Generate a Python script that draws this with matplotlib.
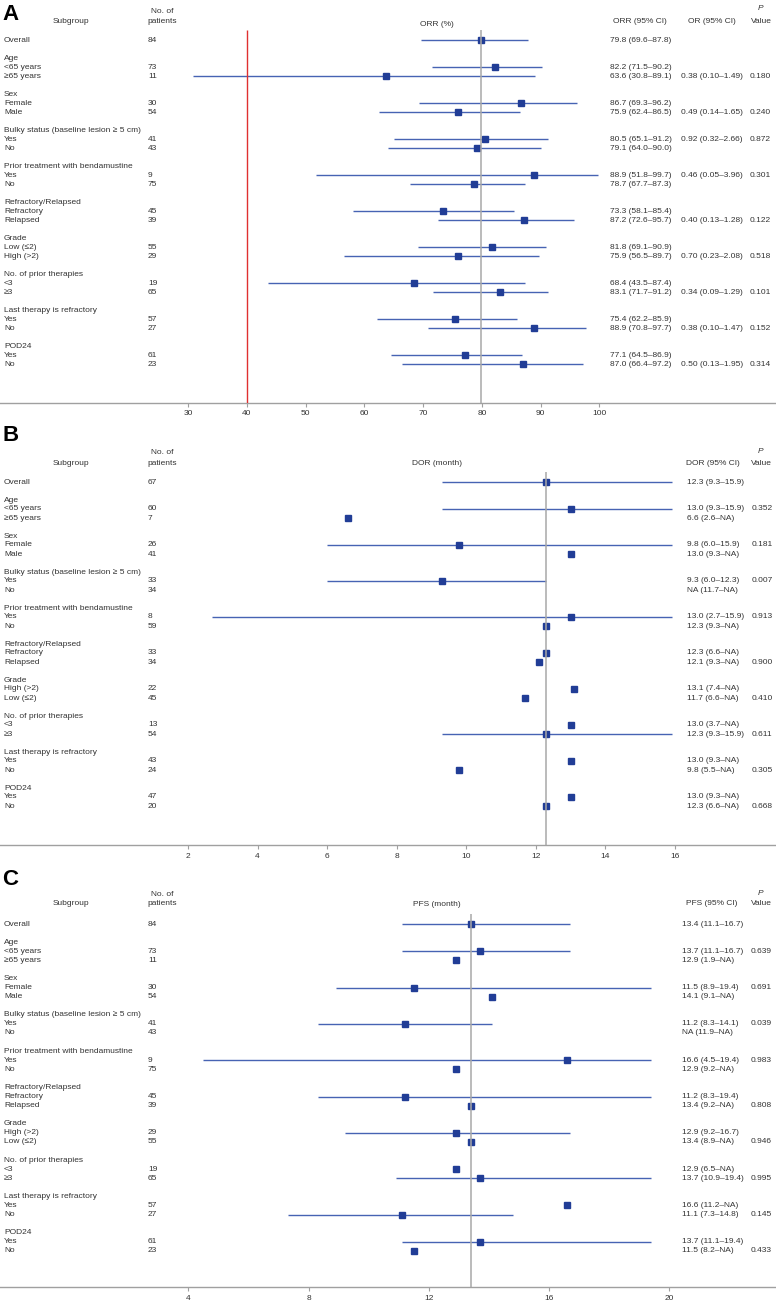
import numpy as np
import matplotlib
matplotlib.use("Agg")
import matplotlib.pyplot as plt

plt.rcParams['font.family'] = ['Liberation Sans', 'DejaVu Sans']

nan = np.nan

# row labels (headers are the rows with n = None)
labels_a = ["Overall",
            "Age", "<65 years", "≥65 years",
            "Sex", "Female", "Male",
            "Bulky status (baseline lesion ≥ 5 cm)", "Yes", "No",
            "Prior treatment with bendamustine", "Yes", "No",
            "Refractory/Relapsed", "Refractory", "Relapsed",
            "Grade", "Low (≤2)", "High (>2)",
            "No. of prior therapies", "<3", "≥3",
            "Last therapy is refractory", "Yes", "No",
            "POD24", "Yes", "No"]
labels_bc = ["Overall",
             "Age", "<65 years", "≥65 years",
             "Sex", "Female", "Male",
             "Bulky status (baseline lesion ≥ 5 cm)", "Yes", "No",
             "Prior treatment with bendamustine", "Yes", "No",
             "Refractory/Relapsed", "Refractory", "Relapsed",
             "Grade", "High (>2)", "Low (≤2)",
             "No. of prior therapies", "<3", "≥3",
             "Last therapy is refractory", "Yes", "No",
             "POD24", "Yes", "No"]

# A: ORR
orr_n = [84, None, 73, 11, None, 30, 54, None, 41, 43, None, 9, 75, None, 45, 39,
         None, 55, 29, None, 19, 65, None, 57, 27, None, 61, 23]
orr_est = [79.8, nan, 82.2, 63.6, nan, 86.7, 75.9, nan, 80.5, 79.1, nan, 88.9, 78.7, nan, 73.3, 87.2,
           nan, 81.8, 75.9, nan, 68.4, 83.1, nan, 75.4, 88.9, nan, 77.1, 87.0]
orr_lo = [69.6, nan, 71.5, 30.8, nan, 69.3, 62.4, nan, 65.1, 64.0, nan, 51.8, 67.7, nan, 58.1, 72.6,
          nan, 69.1, 56.5, nan, 43.5, 71.7, nan, 62.2, 70.8, nan, 64.5, 66.4]
orr_hi = [87.8, nan, 90.2, 89.1, nan, 96.2, 86.5, nan, 91.2, 90.0, nan, 99.7, 87.3, nan, 85.4, 95.7,
          nan, 90.9, 89.7, nan, 87.4, 91.2, nan, 85.9, 97.7, nan, 86.9, 97.2]
orr_or = ["", "", "", "0.38 (0.10–1.49)", "", "", "0.49 (0.14–1.65)", "", "0.92 (0.32–2.66)", "",
          "", "0.46 (0.05–3.96)", "", "", "", "0.40 (0.13–1.28)", "", "", "0.70 (0.23–2.08)",
          "", "", "0.34 (0.09–1.29)", "", "", "0.38 (0.10–1.47)", "", "", "0.50 (0.13–1.95)"]
orr_p = ["", "", "", "0.180", "", "", "0.240", "", "0.872", "", "", "0.301", "", "", "", "0.122",
         "", "", "0.518", "", "", "0.101", "", "", "0.152", "", "", "0.314"]

# B: DOR
dor_n = [67, None, 60, 7, None, 26, 41, None, 33, 34, None, 8, 59, None, 33, 34,
         None, 22, 45, None, 13, 54, None, 43, 24, None, 47, 20]
dor_est = [12.3, nan, 13.0, 6.6, nan, 9.8, 13.0, nan, 9.3, nan, nan, 13.0, 12.3, nan, 12.3, 12.1,
           nan, 13.1, 11.7, nan, 13.0, 12.3, nan, 13.0, 9.8, nan, 13.0, 12.3]
dor_lo = [9.3, nan, 9.3, 2.6, nan, 6.0, 9.3, nan, 6.0, 11.7, nan, 2.7, 9.3, nan, 6.6, 9.3,
          nan, 7.4, 6.6, nan, 3.7, 9.3, nan, 9.3, 5.5, nan, 9.3, 6.6]
dor_hi = [15.9, nan, 15.9, nan, nan, 15.9, nan, nan, 12.3, nan, nan, 15.9, nan, nan, nan, nan,
          nan, nan, nan, nan, nan, 15.9, nan, nan, nan, nan, nan, nan]
dor_p = ["", "", "0.352", "", "", "0.181", "", "", "0.007", "", "", "0.913", "", "", "", "0.900",
         "", "", "0.410", "", "", "0.611", "", "", "0.305", "", "", "0.668"]

# C: PFS
pfs_n = [84, None, 73, 11, None, 30, 54, None, 41, 43, None, 9, 75, None, 45, 39,
         None, 29, 55, None, 19, 65, None, 57, 27, None, 61, 23]
pfs_est = [13.4, nan, 13.7, 12.9, nan, 11.5, 14.1, nan, 11.2, nan, nan, 16.6, 12.9, nan, 11.2, 13.4,
           nan, 12.9, 13.4, nan, 12.9, 13.7, nan, 16.6, 11.1, nan, 13.7, 11.5]
pfs_lo = [11.1, nan, 11.1, 1.9, nan, 8.9, 9.1, nan, 8.3, 11.9, nan, 4.5, 9.2, nan, 8.3, 9.2,
          nan, 9.2, 8.9, nan, 6.5, 10.9, nan, 11.2, 7.3, nan, 11.1, 8.2]
pfs_hi = [16.7, nan, 16.7, nan, nan, 19.4, nan, nan, 14.1, nan, nan, 19.4, nan, nan, 19.4, nan,
          nan, 16.7, nan, nan, nan, 19.4, nan, nan, 14.8, nan, 19.4, nan]
pfs_p = ["", "", "0.639", "", "", "0.691", "", "", "0.039", "", "", "0.983", "", "", "", "0.808",
         "", "", "0.946", "", "", "0.995", "", "", "0.145", "", "", "0.433"]

W, H = 776, 1303
TXT = "#333333"
LINE = "#4763b3"
SQ = "#213d96"
GREY = "#a8a8a8"
FS = 6

fig = plt.figure(figsize=(W / 100, H / 100), dpi=100)


def fmt(v):
    return "NA" if np.isnan(v) else f"{v:.1f}"


def row_pos(n):
    ys, y = [], 0
    for i, k in enumerate(n):
        if i > 0:
            y += 2 if k is None else 1
        ys.append(y)
    return ys


def panel(row0, step, axis_px, xlim, ticks, letter, letter_y, hdr):
    yb = (axis_px - row0) / step
    ytop = -4.5
    top_px = row0 + ytop * step
    ax = fig.add_axes([0, (H - axis_px) / H, 1, (axis_px - top_px) / H])
    ax.set_xlim(xlim)
    ax.set_ylim(yb, ytop)
    for s in ["top", "left", "right"]:
        ax.spines[s].set_visible(False)
    ax.spines["bottom"].set_color("#a0a0a0")
    ax.spines["bottom"].set_linewidth(1.0)
    ax.set_yticks([])
    ax.set_xticks(ticks)
    ax.tick_params(axis="x", direction="out", length=3, width=0.8, color="#a0a0a0",
                   labelsize=FS, labelcolor=TXT, pad=2.5)
    tr = ax.get_yaxis_transform()
    ax.text(2 / W, letter_y, letter, transform=tr, fontsize=16, fontweight="bold",
            va="center", ha="left", color="black")
    ax.text(71 / W, hdr["sub"], "Subgroup", transform=tr, fontsize=FS, color=TXT,
            ha="center", va="center")
    ax.text(162 / W, hdr["no"], "No. of", transform=tr, fontsize=FS, color=TXT,
            ha="center", va="center")
    ax.text(162 / W, hdr["sub"], "patients", transform=tr, fontsize=FS, color=TXT,
            ha="center", va="center")
    ax.text(437 / W, hdr["mid"], hdr["title"], transform=tr, fontsize=FS, color=TXT,
            ha="center", va="center")
    ax.text(761 / W, hdr["p"], "P", transform=tr, fontsize=FS, color=TXT,
            ha="center", va="center", style="italic")
    ax.text(761 / W, hdr["sub"], "Value", transform=tr, fontsize=FS, color=TXT,
            ha="center", va="center")
    return ax, tr, yb


def rows(ax, tr, yb, labels, n, est, lo, hi, ref, ci_x, p, p_x, extra=None, extra_x=None):
    ys = row_pos(n)
    for i, y in enumerate(ys):
        ax.text(4 / W, y, labels[i], transform=tr, fontsize=FS, color=TXT, ha="left", va="center")
        if n[i] is None:
            continue
        ax.text(148 / W, y, str(n[i]), transform=tr, fontsize=FS, color=TXT, ha="left", va="center")
        ax.text(ci_x / W, y, f"{fmt(est[i])} ({fmt(lo[i])}–{fmt(hi[i])})", transform=tr,
                fontsize=FS, color=TXT, ha="left", va="center")
        if extra is not None and extra[i]:
            ax.text(extra_x / W, y, extra[i], transform=tr, fontsize=FS, color=TXT,
                    ha="left", va="center")
        if p[i]:
            ax.text(p_x / W, y, p[i], transform=tr, fontsize=FS, color=TXT, ha="left", va="center")
        if not (np.isnan(lo[i]) or np.isnan(hi[i])):
            ax.hlines(y, lo[i], hi[i], color=LINE, lw=1.0, zorder=2)
        if not np.isnan(est[i]):
            ax.plot(est[i], y, "s", ms=5, color=SQ, mec=SQ, zorder=3)
    ax.vlines(ref, -1.1, yb, color=GREY, lw=1.1, zorder=4)


# panel A
ax, tr, yb = panel(40.3, 9.0, 402.5, (-2.06, 130.09), np.arange(30, 101, 10), "A", -2.85,
                   dict(sub=-2.1, no=-3.15, mid=-1.75, p=-3.55, title="ORR (%)"))
ax.text(640 / W, -2.1, "ORR (95% CI)", transform=tr, fontsize=FS, color=TXT, ha="center", va="center")
ax.text(712 / W, -2.1, "OR (95% CI)", transform=tr, fontsize=FS, color=TXT, ha="center", va="center")
rows(ax, tr, yb, labels_a, orr_n, orr_est, orr_lo, orr_hi, orr_est[0], 610, orr_p, 750,
     extra=orr_or, extra_x=681)
ax.vlines(40, -1.1, yb, color="#e03030", lw=1.0, zorder=5)

# panel B
ax, tr, yb = panel(482, 9.0, 845, (-3.40, 18.90), np.arange(2, 17, 2), "B", -5.2,
                   dict(sub=-2.1, no=-3.33, mid=-2.1, p=-3.44, title="DOR (month)"))
ax.text(686 / W, -2.1, "DOR (95% CI)", transform=tr, fontsize=FS, color=TXT, ha="left", va="center")
rows(ax, tr, yb, labels_bc, dor_n, dor_est, dor_lo, dor_hi, dor_est[0], 687, dor_p, 752)

# panel C
ax, tr, yb = panel(924, 9.08, 1287, (-2.264, 23.55), np.arange(4, 21, 4), "C", -4.85,
                   dict(sub=-2.25, no=-3.3, mid=-2.2, p=-3.4, title="PFS (month)"))
ax.text(686 / W, -2.25, "PFS (95% CI)", transform=tr, fontsize=FS, color=TXT, ha="left", va="center")
rows(ax, tr, yb, labels_bc, pfs_n, pfs_est, pfs_lo, pfs_hi, pfs_est[0], 682, pfs_p, 751)

fig.savefig("out.png", dpi=100, facecolor="white")
